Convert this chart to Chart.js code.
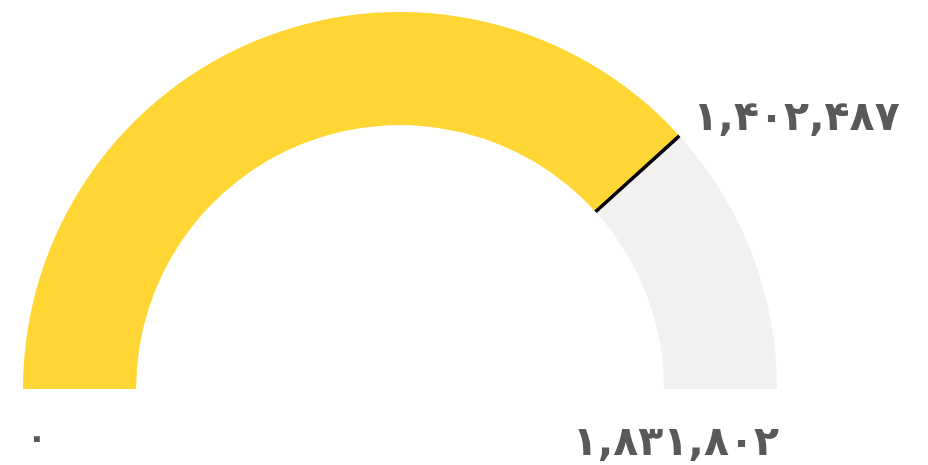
<!DOCTYPE html>
<html>
<head>
<meta charset="utf-8">
<script src="https://cdn.jsdelivr.net/npm/chart.js@4"></script>
<style>
    html, body { margin: 0; padding: 0; background: #fff; }
    #wrap { position: relative; width: 928px; height: 465px; }
</style>
</head>
<body>
<div id="wrap"><canvas id="gauge"></canvas></div>
<script>
// Gauge values
const minValue = 0;
const maxValue = 1831802;
const currentValue = 1402487;
const segmentColors = ['#FFD633', '#F2F1F0'];

// Persian digits with latin comma separators
function toPersian(n) {
    const fa = ['۰', '۱', '۲', '۳', '۴', '۵', '۶', '۷', '۸', '۹'];
    return n.toLocaleString('en-US').replace(/\d/g, d => fa[d]);
}

const gaugeLabels = {
    id: 'gaugeLabels',
    afterDraw(chart) {
        const ctx = chart.ctx;
        const arc = chart.getDatasetMeta(0).data[0];
        const { x, y, outerRadius, innerRadius, endAngle } = arc.getProps(['x', 'y', 'outerRadius', 'innerRadius', 'endAngle'], true);

        // needle at current value
        ctx.save();
        ctx.strokeStyle = '#000';
        ctx.lineWidth = 3.5;
        ctx.beginPath();
        ctx.moveTo(x + Math.cos(endAngle) * innerRadius, y + Math.sin(endAngle) * innerRadius);
        ctx.lineTo(x + Math.cos(endAngle) * outerRadius, y + Math.sin(endAngle) * outerRadius);
        ctx.stroke();

        ctx.fillStyle = '#595959';
        ctx.font = 'bold 41px "DejaVu Sans"';
        ctx.textBaseline = 'alphabetic';

        // current value, next to needle tip
        const tipX = x + Math.cos(endAngle) * outerRadius;
        const tipY = y + Math.sin(endAngle) * outerRadius;
        ctx.textAlign = 'left';
        ctx.fillText(toPersian(currentValue), tipX + 14, tipY - 6);

        // max value, under right end
        ctx.textAlign = 'right';
        ctx.fillText(toPersian(maxValue), x + outerRadius + 2, y + 66);

        // min value, under left end
        ctx.font = 'bold 34px "DejaVu Sans"';
        ctx.textAlign = 'center';
        ctx.fillText(toPersian(minValue), x - outerRadius + 14, y + 60);
        ctx.restore();
    }
};

new Chart(document.getElementById('gauge'), {
    type: 'doughnut',
    data: {
        labels: ['value', 'rest'],
        datasets: [{
            data: [currentValue - minValue, maxValue - currentValue],
            backgroundColor: segmentColors,
            borderWidth: 0
        }]
    },
    options: {
        responsive: true,
        maintainAspectRatio: false,
        animation: false,
        rotation: -90,
        circumference: 180,
        cutout: '70%',
        layout: { padding: { left: 21, right: 149, top: 12, bottom: 76 } },
        plugins: {
            legend: { display: false },
            tooltip: { enabled: false }
        }
    },
    plugins: [gaugeLabels]
});
</script>
</body>
</html>
